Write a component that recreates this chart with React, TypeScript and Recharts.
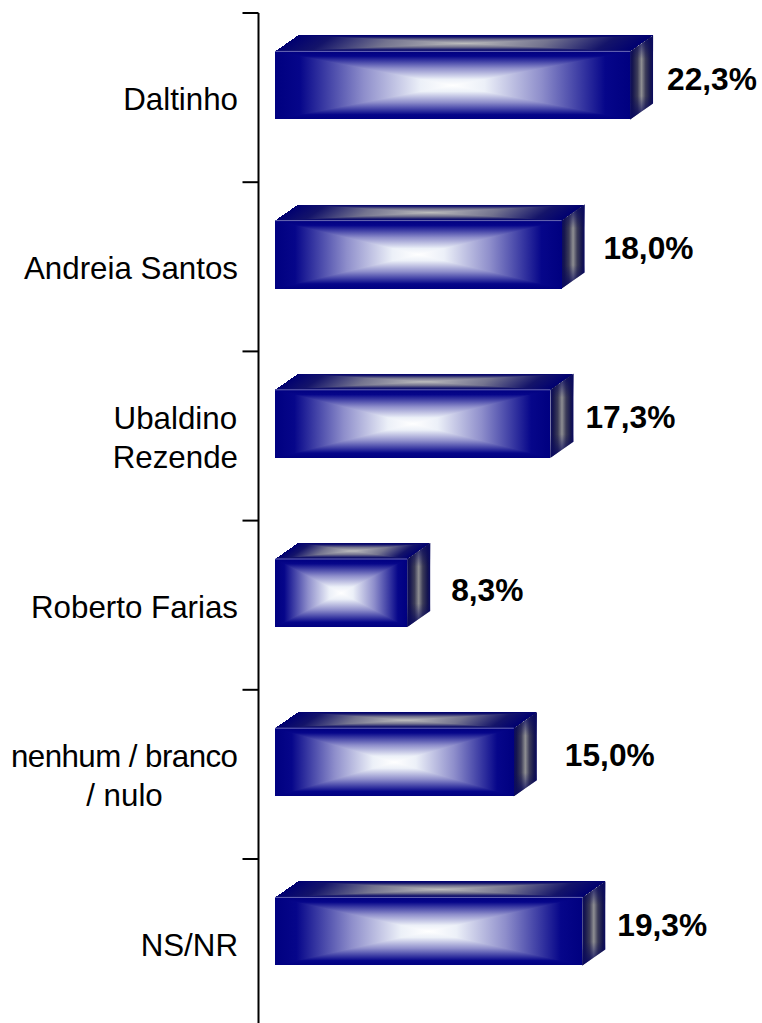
import React from 'react';
import { BarChart, Bar, XAxis, YAxis, LabelList } from 'recharts';

const CATEGORIES = ['Daltinho', 'Andreia Santos', 'Ubaldino\nRezende', 'Roberto Farias', 'nenhum / branco\n/ nulo', 'NS/NR'];
const VALUES = [22.3, 18.0, 17.3, 8.3, 15.0, 19.3];

// the original labels were dragged by hand, so each one has its own nudge
const LABEL_NUDGE_X = [37, 42, 35, 44, 51, 35];
const LABEL_NUDGE_Y = [-6.5, -6.5, -7, -3, -7, -6.5];

const tableData = CATEGORIES.map((name, i) => ({ name, value: VALUES[i] }));

const WIDTH = 762;
const HEIGHT = 1040;
const AXIS_X = 258.5;
const MARGIN_TOP = 13;
const BAND = 169.2;
const BAR_LIFT = 12.6;
const DEPTH_X = 23;
const DEPTH_Y = 16;
const FONT = '"Liberation Sans", Arial, sans-serif';
const CAT_SIZE = 31.3;
const VALUE_SIZE = 31.7;
const SQUEEZED_LINE = 'nenhum / branco'; // narrower spaces in the original
const SQUEEZED_WIDTH = 227;

type Pt = [number, number];

const FRONT_STOPS: [number, string][] = [[0, '#000080'], [0.14, '#06068a'], [0.5, '#8e8ecb'], [0.82, '#ecf0f8'], [1, '#ffffff']];
const TOP_STOPS: [number, string][] = [[0, '#000070'], [0.2, '#14146a'], [0.55, '#74748f'], [1, '#bdbdbd']];

// four triangles meeting in the middle, each shading from its edge to the centre
const Face = ({ id, pts, stops }: { id: string; pts: Pt[]; stops: [number, string][] }) => {
  const cx = pts.reduce((s, p) => s + p[0], 0) / 4;
  const cy = pts.reduce((s, p) => s + p[1], 0) / 4;
  return (
    <g>
      {pts.map((a, i) => {
        const b = pts[(i + 1) % 4];
        const dx = b[0] - a[0];
        const dy = b[1] - a[1];
        const t = ((cx - a[0]) * dx + (cy - a[1]) * dy) / (dx * dx + dy * dy);
        const gid = `${id}-${i}`;
        return (
          <g key={gid}>
            <defs>
              <linearGradient
                id={gid}
                gradientUnits="userSpaceOnUse"
                x1={a[0] + dx * t}
                y1={a[1] + dy * t}
                x2={cx}
                y2={cy}
              >
                {stops.map(([o, c]) => <stop key={o} offset={o} stopColor={c} />)}
              </linearGradient>
            </defs>
            <polygon
              points={`${a[0]},${a[1]} ${b[0]},${b[1]} ${cx},${cy}`}
              fill={`url(#${gid})`}
              shapeRendering="crispEdges"
            />
          </g>
        );
      })}
    </g>
  );
};

// side of the box: a grey stripe down the middle, fading into navy at both ends
const SideFace = ({ id, r, top, b }: { id: string; r: number; top: number; b: number }) => {
  const points = `${r},${top} ${r + DEPTH_X},${top - DEPTH_Y} ${r + DEPTH_X},${b - DEPTH_Y} ${r},${b}`;
  return (
    <g>
      <defs>
        <linearGradient id={`${id}-h`} gradientUnits="userSpaceOnUse" x1={r} y1={0} x2={r + DEPTH_X} y2={0}>
          <stop offset={0} stopColor="#0a0a60" />
          <stop offset={0.12} stopColor="#16164e" />
          <stop offset={0.32} stopColor="#3c3c58" />
          <stop offset={0.5} stopColor="#8e8e92" />
          <stop offset={0.68} stopColor="#3c3c58" />
          <stop offset={0.88} stopColor="#16164e" />
          <stop offset={1} stopColor="#0a0a60" />
        </linearGradient>
        <linearGradient id={`${id}-v`} gradientUnits="userSpaceOnUse" x1={0} y1={top - DEPTH_Y} x2={0} y2={b}>
          <stop offset={0} stopColor="#0a0a60" stopOpacity={1} />
          <stop offset={0.28} stopColor="#0a0a60" stopOpacity={0} />
          <stop offset={0.72} stopColor="#0a0a60" stopOpacity={0} />
          <stop offset={1} stopColor="#0a0a60" stopOpacity={1} />
        </linearGradient>
      </defs>
      <polygon points={points} fill={`url(#${id}-h)`} />
      <polygon points={points} fill={`url(#${id}-v)`} />
    </g>
  );
};

const Box3D = (props: any) => {
  const { x, y, width, height, index } = props;
  const top = y - BAR_LIFT;
  const r = x + width;
  const b = top + height;
  return (
    <g>
      <Face
        id={`top${index}`}
        stops={TOP_STOPS}
        pts={[[x, top], [x + DEPTH_X, top - DEPTH_Y], [r + DEPTH_X, top - DEPTH_Y], [r, top]]}
      />
      <SideFace id={`side${index}`} r={r} top={top} b={b} />
      <Face id={`front${index}`} stops={FRONT_STOPS} pts={[[x, top], [r, top], [r, b], [x, b]]} />
      <line x1={x} y1={top} x2={r} y2={top} stroke="#6a6ab4" strokeWidth={1} />
    </g>
  );
};

const measure = (text: string) => {
  if (text === SQUEEZED_LINE) return SQUEEZED_WIDTH;
  const ctx = document.createElement('canvas').getContext('2d')!;
  ctx.font = `${CAT_SIZE}px ${FONT}`;
  return ctx.measureText(text).width;
};

const CategoryTick = (props: any) => {
  const { x, y, payload, index } = props;
  const lines = String(payload.value).split('\n');
  const right = x - 20.5;
  const widest = Math.max(...lines.map(measure));
  const lineH = 39;
  const firstY = y + 2 - ((lines.length - 1) * lineH) / 2;
  return (
    <g>
      <line x1={x - 16} x2={x} y1={y - BAND / 2} y2={y - BAND / 2} stroke="#000" strokeWidth={2} />
      {index === CATEGORIES.length - 1 && (
        <line x1={x - 16} x2={x} y1={y + BAND / 2} y2={y + BAND / 2} stroke="#000" strokeWidth={2} />
      )}
      {lines.map((line, i) => (
        <text
          key={line}
          x={lines.length > 1 ? right - widest / 2 : right}
          y={firstY + i * lineH}
          textAnchor={lines.length > 1 ? 'middle' : 'end'}
          dominantBaseline="central"
          fontFamily={FONT}
          fontSize={CAT_SIZE}
          fill="#000"
          {...(line === SQUEEZED_LINE ? { textLength: SQUEEZED_WIDTH } : {})}
        >
          {line}
        </text>
      ))}
    </g>
  );
};

const ValueLabel = (props: any) => {
  const { x, y, width, height, value, index } = props;
  return (
    <text
      x={x + width + LABEL_NUDGE_X[index]}
      y={y - BAR_LIFT + height / 2 + LABEL_NUDGE_Y[index]}
      dominantBaseline="central"
      fontFamily={FONT}
      fontSize={VALUE_SIZE}
      fontWeight="bold"
      fill="#000"
    >
      {value.toFixed(1).replace('.', ',')}%
    </text>
  );
};

export default function App() {
  return (
    <div style={{ position: 'absolute', left: 0, top: 0, width: WIDTH, height: 1023, overflow: 'hidden', background: '#fff' }}>
      <BarChart
        width={WIDTH}
        height={HEIGHT}
        layout="vertical"
        data={tableData}
        margin={{ top: MARGIN_TOP, right: 0, bottom: HEIGHT - MARGIN_TOP - BAND * 6, left: 0 }}
        barCategoryGap={0}
      >
        <XAxis type="number" hide domain={[-1.04, 30.59]} />
        <YAxis
          type="category"
          dataKey="name"
          width={AXIS_X}
          axisLine={{ stroke: '#000', strokeWidth: 2 }}
          tickLine={false}
          tickSize={0}
          tickMargin={0}
          interval={0}
          tick={CategoryTick}
        />
        <Bar dataKey="value" barSize={68} shape={Box3D} isAnimationActive={false}>
          <LabelList dataKey="value" content={ValueLabel} />
        </Bar>
      </BarChart>
    </div>
  );
}
